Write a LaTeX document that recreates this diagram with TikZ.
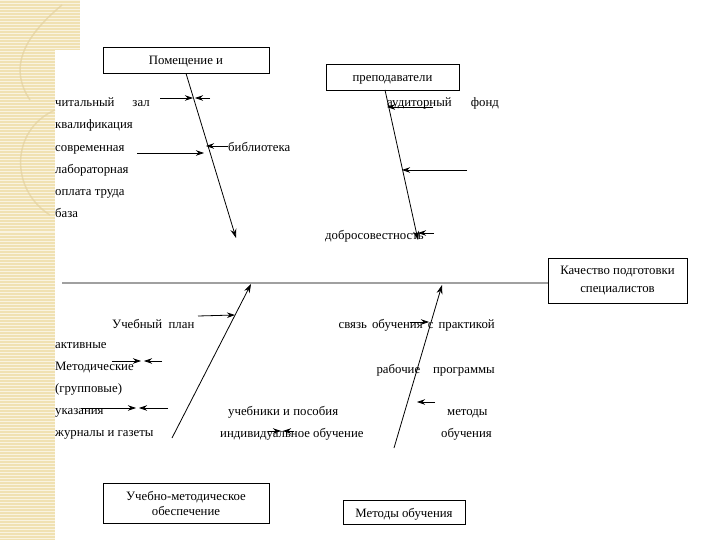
\documentclass[tikz,border=0pt]{standalone}
\usepackage{fontspec}
\setmainfont{Liberation Serif}
\usetikzlibrary{arrows.meta}
\definecolor{beige}{RGB}{240,225,178}
\definecolor{beigeline}{RGB}{228,210,160}
\definecolor{spinegray}{RGB}{160,160,160}
\begin{document}
\begin{tikzpicture}[x=1pt,y=-1pt,
  txt/.style={font=\fontsize{12.8}{14}\selectfont, inner sep=0pt, anchor=base west, yshift=-1.5pt},
  txtr/.style={font=\fontsize{12.8}{14}\selectfont, inner sep=0pt, anchor=base east, yshift=-1.5pt},
  box/.style={draw=black, line width=0.8pt, inner sep=0pt, align=center, text height=11pt, text depth=1pt, font=\fontsize{12.8}{15}\selectfont},
  mbox/.style={draw=black, line width=0.8pt, inner sep=0pt, align=center},
  bone/.style={line width=0.8pt, -{Stealth[length=9pt,width=6pt]}},
  arr/.style={line width=0.8pt, -{Stealth[length=8pt,width=5.5pt]}},
  plain/.style={line width=0.8pt}]
\useasboundingbox (0,0) rectangle (720,540);
\fill[white] (0,0) rectangle (720,540);
% decorative left strip
\fill[beige] (0,0) rectangle (55,540);
\fill[beige] (0,0) rectangle (80,50);
\foreach \y in {1,4,...,539} \draw[white,opacity=0.6,line width=1pt] (0,\y) -- (55,\y);
\foreach \y in {1,4,...,49} \draw[white,opacity=0.6,line width=1pt] (55,\y) -- (80,\y);
\draw[beigeline,line width=1.5pt,opacity=0.7] (62,5) .. controls (20,40) and (10,70) .. (30,100);
\draw[beigeline,line width=1.5pt,opacity=0.7] (55,110) .. controls (10,130) and (10,190) .. (50,215);
% boxes
\node[box, minimum width=166pt, minimum height=26pt] (pom) at (186,60) {Помещение и};
\node[box, minimum width=133pt, minimum height=26pt] (prep) at (392.5,77) {преподаватели};
\node[mbox, minimum width=139pt, minimum height=45pt, font=\fontsize{12.8}{18.5}\selectfont] (kach) at (617.5,280.5) {Качество подготовки\\специалистов};
\node[mbox, minimum width=166pt, minimum height=40pt, font=\fontsize{12.8}{15}\selectfont] (uchm) at (186,503) {Учебно-методическое\\обеспечение};
\node[box, minimum width=122pt, minimum height=24pt] (meto) at (404,512) {Методы обучения};
% spine
\coordinate (sp) at (62,283);
\draw[spinegray, line width=1.2pt] (sp) -- (kach.west |- sp);
% bones
\coordinate (b1e) at (236,238);
\coordinate (b2s) at (385,90);
\coordinate (b2e) at (418,240);
\coordinate (b3s) at (172,438);
\coordinate (b3e) at (251,284);
\coordinate (b4s) at (394,448);
\coordinate (b4e) at (442,285);
\draw[bone] (pom.south) -- (b1e);
\draw[bone] (b2s) -- (b2e);
\draw[bone] (b3s) -- (b3e);
\draw[bone] (b4s) -- (b4e);
% texts left top
\node[txt] (t1) at (55,105) {читальный\hspace{1.4em}зал};
\node[txt] (t2) at (55,127) {квалификация};
\node[txt] (t3) at (55,150) {современная};
\node[txt] (t4) at (55,172) {лабораторная};
\node[txt] (t5) at (55,194) {оплата труда};
\node[txt] (t6) at (55,216) {база};
\node[txt] (t7) at (228,150) {библиотека};
\node[txt] (t8) at (387,105) {аудиторный\hspace{1.5em}фонд};
\node[txt] (t9) at (325,238) {добросовестность};
% texts bottom
\node[txt] (u1) at (112,327) {Учебный\hspace{0.5em}план};
\node[txt] (u2) at (55,347) {активные};
\node[txt] (u3) at (55,369) {Методические};
\node[txt] (u4) at (55,391) {(групповые)};
\node[txt] (u5) at (55,413) {указания};
\node[txt] (u6) at (55,435) {журналы и газеты};
\node[txt] (u7) at (228,414) {учебники и пособия};
\node[txt] (u8) at (220,436) {индивидуальное обучение};
\node[txtr] (u9) at (495,327) {связь\hspace{0.4em}обучения\hspace{0.4em}с\hspace{0.4em}практикой};
\node[txtr] (u10) at (495,372) {рабочие\hspace{1em}программы};
\node[txt] (u11) at (447,414) {методы};
\node[txt] (u12) at (441,436) {обучения};
% small arrows top
\coordinate (a1s) at (160,98); \coordinate (a1e) at (193,98);
\coordinate (a2s) at (210,98); \coordinate (a2e) at (195,98);
\coordinate (a3s) at (137,153); \coordinate (a3e) at (204,153);
\coordinate (a4e) at (206,146);
\coordinate (a5s) at (433,107); \coordinate (a5e) at (387,107);
\coordinate (a6s) at (467,170); \coordinate (a6e) at (402,170);
\coordinate (a7s) at (434,233); \coordinate (a7e) at (418,233);
\draw[arr] (a1s) -- (a1e);
\draw[arr] (a2s) -- (a2e);
\draw[arr] (a3s) -- (a3e);
\draw[arr] (t7.west |- a4e) -- (a4e);
\draw[arr] (a5s) -- (a5e);
\draw[arr] (a6s) -- (a6e);
\draw[arr] (a7s) -- (a7e);
% small arrows bottom
\coordinate (c1s) at (198,316); \coordinate (c1e) at (235,315);
\coordinate (c2s) at (112,361); \coordinate (c2e) at (141,361);
\coordinate (c3s) at (162,361); \coordinate (c3e) at (144,361);
\coordinate (c4s) at (81,408); \coordinate (c4e) at (136,408);
\coordinate (c5s) at (168,408); \coordinate (c5e) at (139,408);
\coordinate (c6s) at (268,431); \coordinate (c6e) at (281,431);
\coordinate (c7s) at (294,431); \coordinate (c7e) at (283,431);
\coordinate (c8s) at (410,322); \coordinate (c8e) at (429,322);
\coordinate (c9s) at (435,402); \coordinate (c9e) at (417,402);
\draw[arr] (c1s) -- (c1e);
\draw[arr] (c2s) -- (c2e);
\draw[arr] (c3s) -- (c3e);
\draw[arr] (c4s) -- (c4e);
\draw[arr] (c5s) -- (c5e);
\draw[arr] (c6s) -- (c6e);
\draw[arr] (c7s) -- (c7e);
\draw[arr] (c8s) -- (c8e);
\draw[arr] (c9s) -- (c9e);
\end{tikzpicture}
\end{document}
